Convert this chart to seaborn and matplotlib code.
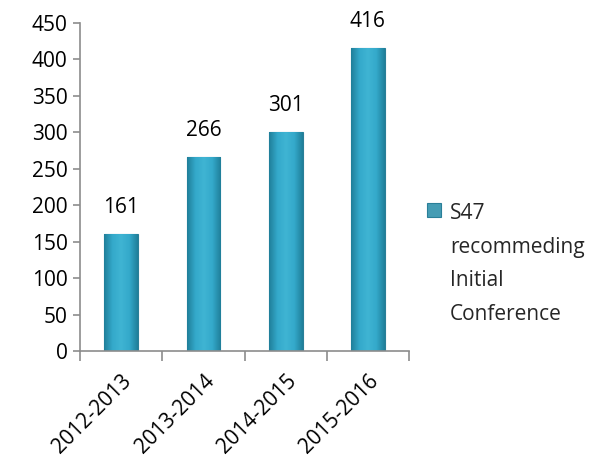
import numpy as np
import pandas as pd
import matplotlib
matplotlib.use("Agg")
import matplotlib.pyplot as plt
from matplotlib.colors import LinearSegmentedColormap
import seaborn as sns

# chart data
years = ["2012-2013", "2013-2014", "2014-2015", "2015-2016"]
counts = [161, 266, 301, 416]
series_name = "S47\nrecommeding\nInitial\nConference"

df = pd.DataFrame({"year": years, "count": counts, "series": series_name})

sns.set_theme(style="white")
plt.rcParams["font.family"] = ["Open Sans", "DejaVu Sans"]

fig = plt.figure(figsize=(6.16, 4.70), dpi=100)
ax = fig.add_axes([0.130, 0.253, 0.534, 0.698])

sns.barplot(data=df, x="year", y="count", hue="series", palette=["#33A6C6"],
            width=0.41, edgecolor="#2A7F98", linewidth=0.8, ax=ax)

# cylinder-like shading on each bar
shade = LinearSegmentedColormap.from_list(
    "shade", ["#1F7E99", "#34A9CA", "#3FB4D3", "#34A9CA", "#1F7E99"])
grad = np.linspace(0, 1, 256).reshape(1, -1)
for bar in ax.patches:
    x0, y0 = bar.get_x(), bar.get_y()
    w, h = bar.get_width(), bar.get_height()
    if h <= 0:
        continue
    im = ax.imshow(grad, cmap=shade, aspect="auto",
                   extent=[x0, x0 + w, y0, y0 + h], zorder=bar.get_zorder() + 0.1)
    im.set_clip_path(bar)

ax.set_xlim(-0.5, len(years) - 0.5)
ax.set_ylim(0, 450)
ax.set_yticks(range(0, 451, 50))
ax.set_xlabel("")
ax.set_ylabel("")

for i, v in enumerate(counts):
    ax.text(i, v + 22, str(v), ha="center", va="bottom", fontsize=15, color="black")

# axes styling
for s in ["top", "right"]:
    ax.spines[s].set_visible(False)
for s in ["left", "bottom"]:
    ax.spines[s].set_color("#8C8C8C")
    ax.spines[s].set_linewidth(1.2)

ax.tick_params(axis="y", which="major", direction="out", length=5, width=1.2,
               color="#8C8C8C", labelsize=15, labelcolor="black", left=True, pad=4)
ax.set_xticks(np.arange(len(years)))
ax.set_xticklabels(years, rotation=45, ha="right", rotation_mode="anchor",
                   fontsize=15, color="black")
ax.tick_params(axis="x", which="major", length=0, pad=14)
ax.set_xticks(np.arange(-0.5, len(years), 1.0), minor=True)
ax.tick_params(axis="x", which="minor", direction="out", length=7, width=1.2,
               color="#8C8C8C", bottom=True)

leg = ax.legend(loc="upper left", bbox_to_anchor=(1.055, 0.45), frameon=False,
                fontsize=15, handlelength=0.65, handleheight=0.65,
                handletextpad=0.45, borderaxespad=0, borderpad=0)
for t in leg.get_texts():
    t.set_linespacing(1.78)
# put the marker next to the first line of the label
for col in leg._legend_handle_box.get_children():
    for row in col.get_children():
        row.align = "top"

fig.savefig("out.png", dpi=100)
